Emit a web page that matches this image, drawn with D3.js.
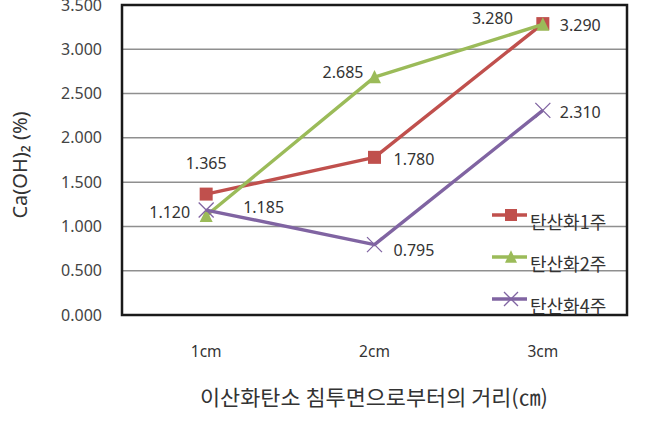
<!DOCTYPE html>
<html><head><meta charset="utf-8">
<script src="https://cdn.jsdelivr.net/npm/d3@7"></script>
<style>body{margin:0;background:#fff}svg{display:block}</style>
</head><body>
<script>
const categories = ["1cm", "2cm", "3cm"];
const seriesNames = ["탄산화1주", "탄산화2주", "탄산화4주"];
const week1 = [1.365, 1.780, 3.290];
const week2 = [1.120, 2.685, 3.280];
const week4 = [1.185, 0.795, 2.310];
const yTicks = [0, 0.5, 1.0, 1.5, 2.0, 2.5, 3.0, 3.5];
const colors = ["#C0504D", "#9BBB59", "#8064A2"];
const markers = ["square", "triangle", "cross"];
// label placement per series, per point: [dx, dy(baseline), anchor]
const labelPos = [
  [[0, -25, "middle"], [19, 8, "start"], [17, 7, "start"]],
  [[-16, 2, "end"], [-11, 1, "end"], [-30, 0, "end"]],
  [[37, 3, "start"], [19, 11, "start"], [17, 8, "start"]]
];
const series = [week1, week2, week4];

const W = 645, H = 423;
const m = {left: 122, right: 627, top: 5, bottom: 315};
const svg = d3.select("body").append("svg").attr("width", W).attr("height", H);
const x = d3.scaleBand().domain(categories).range([m.left, m.right]);
const y = d3.scaleLinear().domain([0, 3.5]).range([m.bottom, m.top]);
const numFont = "'Noto Sans', 'Open Sans', sans-serif";
const krFont = "'Noto Sans CJK KR', sans-serif";

// gridlines
svg.append("g").selectAll("line").data(yTicks.slice(1, -1)).join("line")
  .attr("x1", m.left).attr("x2", m.right)
  .attr("y1", d => y(d)).attr("y2", d => y(d))
  .attr("stroke", "#8f8f8f").attr("stroke-width", 1.5);

// y axis labels
const yAxis = d3.axisLeft(y).tickValues(yTicks).tickFormat(d3.format(".3f")).tickSize(0).tickPadding(20);
svg.append("g").attr("transform", `translate(${m.left},0)`).call(yAxis)
  .call(g => g.select(".domain").remove())
  .call(g => g.selectAll("text").attr("font-family", numFont).attr("font-size", 16).attr("fill", "#444"));

// x axis labels
const xAxis = d3.axisBottom(x).tickSize(0).tickPadding(31);
svg.append("g").attr("transform", `translate(0,${m.bottom})`).call(xAxis)
  .call(g => g.select(".domain").remove())
  .call(g => g.selectAll("text").attr("font-family", numFont).attr("font-size", 15.5).attr("fill", "#333"));

// frame
svg.append("rect").attr("x", m.left).attr("y", m.top)
  .attr("width", m.right - m.left).attr("height", m.bottom - m.top)
  .attr("fill", "none").attr("stroke", "#1a1a1a").attr("stroke-width", 2.5);

const cx = c => x(c) + x.bandwidth() / 2;
function drawMarker(g, type, color, px, py, s) {
  if (type === "square") {
    g.append("rect").attr("x", px - s/2).attr("y", py - s/2).attr("width", s).attr("height", s).attr("fill", color);
  } else if (type === "triangle") {
    const h = s * 0.95;
    g.append("path").attr("d", `M${px},${py - h/2 - 1}L${px + s/2},${py + h/2}L${px - s/2},${py + h/2}Z`).attr("fill", color);
  } else {
    const r = s / 2;
    g.append("path").attr("d", `M${px - r},${py - r}L${px + r},${py + r}M${px - r},${py + r}L${px + r},${py - r}`)
      .attr("stroke", color).attr("stroke-width", 1.3).attr("fill", "none");
  }
}

const line = d3.line().x((d, i) => cx(categories[i])).y(d => y(d));
series.forEach((vals, si) => {
  const g = svg.append("g");
  g.append("path").datum(vals).attr("d", line).attr("fill", "none")
    .attr("stroke", colors[si]).attr("stroke-width", 3.4).attr("stroke-linejoin", "round");
  vals.forEach((v, i) => drawMarker(g, markers[si], colors[si], cx(categories[i]), y(v), si === 2 ? 15 : 13));
});

// data labels
series.forEach((vals, si) => {
  vals.forEach((v, i) => {
    const [dx, dy, anchor] = labelPos[si][i];
    svg.append("text").attr("x", cx(categories[i]) + dx).attr("y", y(v) + dy)
      .attr("text-anchor", anchor).attr("font-family", numFont).attr("font-size", 16)
      .attr("fill", "#333").text(d3.format(".3f")(v));
  });
});

// legend
const legendY = [215, 257, 299];
seriesNames.forEach((name, si) => {
  const g = svg.append("g");
  const ly = legendY[si];
  g.append("line").attr("x1", 492).attr("x2", 527).attr("y1", ly).attr("y2", ly)
    .attr("stroke", colors[si]).attr("stroke-width", 3.4);
  drawMarker(g, markers[si], colors[si], 511, ly, si === 2 ? 14 : 12);
  g.append("text").attr("x", 530).attr("y", ly + 14).attr("font-family", krFont)
    .attr("font-size", 18).attr("fill", "#333").text(name);
});

// axis titles
svg.append("text").attr("transform", `translate(27,${(m.top + m.bottom) / 2 + 5}) rotate(-90)`)
  .attr("text-anchor", "middle").attr("font-family", "'Noto Sans', sans-serif").attr("font-size", 20)
  .attr("fill", "#333").text("Ca(OH)₂ (%)");
svg.append("text").attr("x", 374).attr("y", 405).attr("text-anchor", "middle")
  .attr("font-family", krFont).attr("font-size", 21).attr("fill", "#333")
  .attr("textLength", 348).attr("lengthAdjust", "spacingAndGlyphs")
  .text("이산화탄소 침투면으로부터의 거리(㎝)");
</script>
</body></html>
